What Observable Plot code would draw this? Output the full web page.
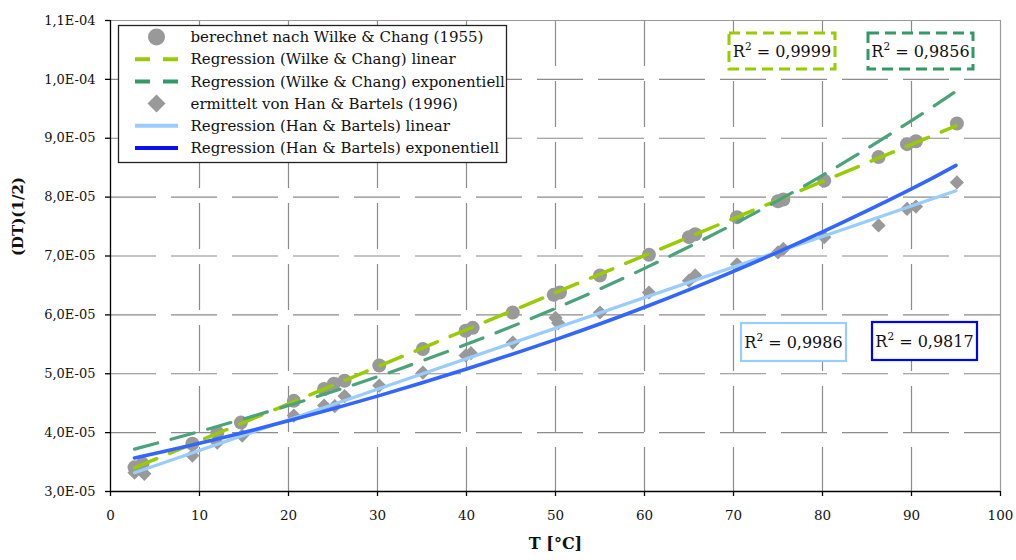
<!DOCTYPE html>
<html><head><meta charset="utf-8">
<script src="https://cdn.jsdelivr.net/npm/d3@7"></script>
<script src="https://cdn.jsdelivr.net/npm/@observablehq/plot@0.6"></script>
<style>
html,body{margin:0;padding:0;background:#fff;}
#wrap{position:relative;width:1016px;height:560px;font-family:"DejaVu Serif",serif;}
#wrap svg{display:block;}
#overlay{position:absolute;left:0;top:0;pointer-events:none;}
</style></head><body><div id="wrap"></div>
<script>
// Wilke & Chang (1955) computed points
const wcT = [2.7, 3.6, 9.2, 12.0, 14.65, 20.6, 24.0, 25.1, 26.3, 30.2, 35.1, 39.9, 40.7, 45.2, 49.8, 50.5, 55.0, 60.5, 65.0, 65.7, 70.4, 75.0, 75.6, 80.2, 86.3, 89.5, 90.5, 95.1];
const wcD = [3.41e-5, 3.47e-5, 3.81e-5, 4.00e-5, 4.17e-5, 4.54e-5, 4.74e-5, 4.83e-5, 4.88e-5, 5.14e-5, 5.42e-5, 5.73e-5, 5.78e-5, 6.04e-5, 6.34e-5, 6.38e-5, 6.67e-5, 7.02e-5, 7.32e-5, 7.37e-5, 7.66e-5, 7.93e-5, 7.96e-5, 8.28e-5, 8.68e-5, 8.90e-5, 8.95e-5, 9.25e-5];
// Han & Bartels (1996) points
const hbT = [2.7, 3.8, 9.2, 12.0, 14.8, 20.6, 24.0, 25.2, 26.3, 30.2, 35.1, 39.9, 40.5, 45.2, 50.0, 50.3, 55.0, 60.5, 65.0, 65.7, 70.4, 75.0, 75.6, 80.2, 86.3, 89.5, 90.5, 95.1];
const hbD = [3.32e-5, 3.30e-5, 3.61e-5, 3.83e-5, 3.95e-5, 4.29e-5, 4.46e-5, 4.45e-5, 4.62e-5, 4.80e-5, 5.02e-5, 5.31e-5, 5.35e-5, 5.53e-5, 5.95e-5, 5.86e-5, 6.04e-5, 6.38e-5, 6.58e-5, 6.67e-5, 6.86e-5, 7.06e-5, 7.12e-5, 7.32e-5, 7.52e-5, 7.80e-5, 7.84e-5, 8.25e-5];
// regression lines
const wcLinT = [2.7, 95];
const wcLinD = [3.40e-5, 9.21e-5];
const wcExpT = [2.7, 10, 20, 30, 40, 50, 60, 70, 80, 90, 95];
const wcExpD = [3.72e-5, 4.02e-5, 4.46e-5, 4.95e-5, 5.50e-5, 6.11e-5, 6.79e-5, 7.54e-5, 8.37e-5, 9.30e-5, 9.80e-5];
const hbLinT = [2.7, 95];
const hbLinD = [3.32e-5, 8.11e-5];
const hbExpT = [2.7, 10, 20, 30, 40, 50, 60, 70, 80, 90, 95];
const hbExpD = [3.57e-5, 3.82e-5, 4.20e-5, 4.62e-5, 5.08e-5, 5.58e-5, 6.13e-5, 6.74e-5, 7.41e-5, 8.14e-5, 8.54e-5];

const xTicks = [0, 10, 20, 30, 40, 50, 60, 70, 80, 90, 100];
const yTicks = [3e-5, 4e-5, 5e-5, 6e-5, 7e-5, 8e-5, 9e-5, 10e-5, 11e-5];
const yTickLabels = ["3,0E-05", "4,0E-05", "5,0E-05", "6,0E-05", "7,0E-05", "8,0E-05", "9,0E-05", "1,0E-04", "1,1E-04"];
const xLabel = "T [°C]";
const yLabel = "(DT)(1/2)";
const legendLabels = [
  "berechnet nach Wilke & Chang (1955)",
  "Regression (Wilke & Chang) linear",
  "Regression (Wilke & Chang) exponentiell",
  "ermittelt von Han & Bartels (1996)",
  "Regression (Han & Bartels) linear",
  "Regression (Han & Bartels) exponentiell"
];
const r2Labels = ["0,9999", "0,9856", "0,9986", "0,9817"];

const rows = (T, D) => T.map((t, i) => ({t, d: D[i]}));
const wc = rows(wcT, wcD), hb = rows(hbT, hbD);
const wcLin = rows(wcLinT, wcLinD), wcExp = rows(wcExpT, wcExpD);
const hbLin = rows(hbLinT, hbLinD), hbExp = rows(hbExpT, hbExpD);

const FONT = "DejaVu Serif";
const gridStyle = {stroke: "#8c8c8c", strokeOpacity: 1, strokeWidth: 1.2, strokeDasharray: "46,15"};
const yFmt = d => yTickLabels[yTicks.findIndex(t => Math.abs(t - d) < 1e-9)];

const chart = Plot.plot({
  width: 1016, height: 560,
  marginLeft: 110, marginRight: 16, marginTop: 20, marginBottom: 69,
  style: {fontFamily: FONT, background: "#fff", color: "#111"},
  x: {domain: [0, 100]},
  y: {domain: [3e-5, 11e-5]},
  marks: [
    Plot.gridX(xTicks.slice(1, -1), gridStyle),
    Plot.gridY(yTicks.slice(1, -1), gridStyle),
    Plot.ruleY([11e-5], {stroke: "#9a9a9a", strokeWidth: 1.2}),
    Plot.ruleX([100], {stroke: "#9a9a9a", strokeWidth: 1.2}),
    Plot.dot(wc, {x: "t", y: "d", r: 7, fill: "#999999", stroke: null, symbol: "circle"}),
    Plot.dot(hb, {x: "t", y: "d", r: 6.4, fill: "#999999", stroke: null, symbol: "diamond2"}),
    Plot.line(wcLin, {x: "t", y: "d", stroke: "#99cc00", strokeWidth: 3.5, strokeDasharray: "24,14"}),
    Plot.line(wcExp, {x: "t", y: "d", stroke: "#4aa37a", strokeWidth: 3.2, strokeDasharray: "24,14", curve: "natural"}),
    Plot.line(hbLin, {x: "t", y: "d", stroke: "#99ccff", strokeWidth: 3.2}),
    Plot.line(hbExp, {x: "t", y: "d", stroke: "#3366ff", strokeWidth: 3.6, curve: "natural"}),
    Plot.ruleX([0], {stroke: "#000", strokeWidth: 1.3}),
    Plot.ruleY([3e-5], {stroke: "#000", strokeWidth: 1.3}),
    Plot.axisX(xTicks, {tickSize: 5, tickPadding: 14, fontSize: 13.5, label: null, stroke: "#000", strokeWidth: 1.3, fill: "#111"}),
    Plot.axisY(yTicks, {tickSize: 5, tickPadding: 10, fontSize: 13, label: null, tickFormat: yFmt, stroke: "#000", strokeWidth: 1.3, fill: "#111"}),
    Plot.text([xLabel], {text: d => d, frameAnchor: "bottom", dy: 57, fontSize: 16, fontWeight: "bold", fill: "#111"}),
    Plot.text([yLabel], {text: d => d, frameAnchor: "left", dx: -92, rotate: -90, fontSize: 15, fontWeight: "bold", fill: "#111"})
  ]
});
const wrap = document.getElementById("wrap");
wrap.appendChild(chart);

// overlay: legend and R² annotation boxes
const ov = d3.select(wrap).append("svg").attr("id", "overlay")
  .attr("width", 1016).attr("height", 560)
  .style("font-family", FONT);

const lg = ov.append("g").attr("transform", "translate(118,25)");
lg.append("rect").attr("x", 0.5).attr("y", 0.5).attr("width", 388).attr("height", 137)
  .attr("fill", "#fff").attr("stroke", "#222").attr("stroke-width", 1.3);
const rowY = [12, 34.2, 56.4, 78.6, 100.8, 123];
const swatch = [
  {type: "circle"},
  {type: "line", color: "#99cc00", dash: "15,13"},
  {type: "line", color: "#339966", dash: "15,13"},
  {type: "diamond"},
  {type: "line", color: "#99ccff", dash: null},
  {type: "line", color: "#0a10f0", dash: null}
];
legendLabels.forEach((lab, i) => {
  const y = rowY[i], s = swatch[i];
  if (s.type === "circle") lg.append("circle").attr("cx", 38.5).attr("cy", y).attr("r", 8.5).attr("fill", "#999");
  else if (s.type === "diamond") lg.append("path").attr("d", `M38.5,${y-9}L47.5,${y}L38.5,${y+9}L29.5,${y}Z`).attr("fill", "#999");
  else lg.append("line").attr("x1", 17).attr("x2", 60).attr("y1", y).attr("y2", y)
    .attr("stroke", s.color).attr("stroke-width", 4).attr("stroke-dasharray", s.dash);
  lg.append("text").attr("x", 72.5).attr("y", y).attr("dy", "0.35em").attr("font-size", 15).attr("fill", "#111").text(lab);
});

const boxes = [
  {x: 729, y: 33, w: 106, h: 36, color: "#99cc00", dash: "11,6", sw: 3},
  {x: 868, y: 33, w: 105, h: 36, color: "#339966", dash: "11,6", sw: 3},
  {x: 741, y: 323, w: 105, h: 38, color: "#99ccff", dash: null, sw: 2.2},
  {x: 872, y: 322, w: 105, h: 38, color: "#0000ff", dash: null, sw: 2.2}
];
boxes.forEach((b, i) => {
  ov.append("rect").attr("x", b.x).attr("y", b.y).attr("width", b.w).attr("height", b.h)
    .attr("fill", "#fff").attr("stroke", b.color).attr("stroke-width", b.sw).attr("stroke-dasharray", b.dash);
  const t = ov.append("text").attr("x", b.x + b.w / 2).attr("y", b.y + b.h / 2 + 6)
    .attr("text-anchor", "middle").attr("font-size", 16).attr("fill", "#111");
  t.append("tspan").text("R");
  t.append("tspan").attr("dy", -7).attr("font-size", 10.5).text("2");
  t.append("tspan").attr("dy", 7).text(" = " + r2Labels[i]);
});
</script></body></html>
